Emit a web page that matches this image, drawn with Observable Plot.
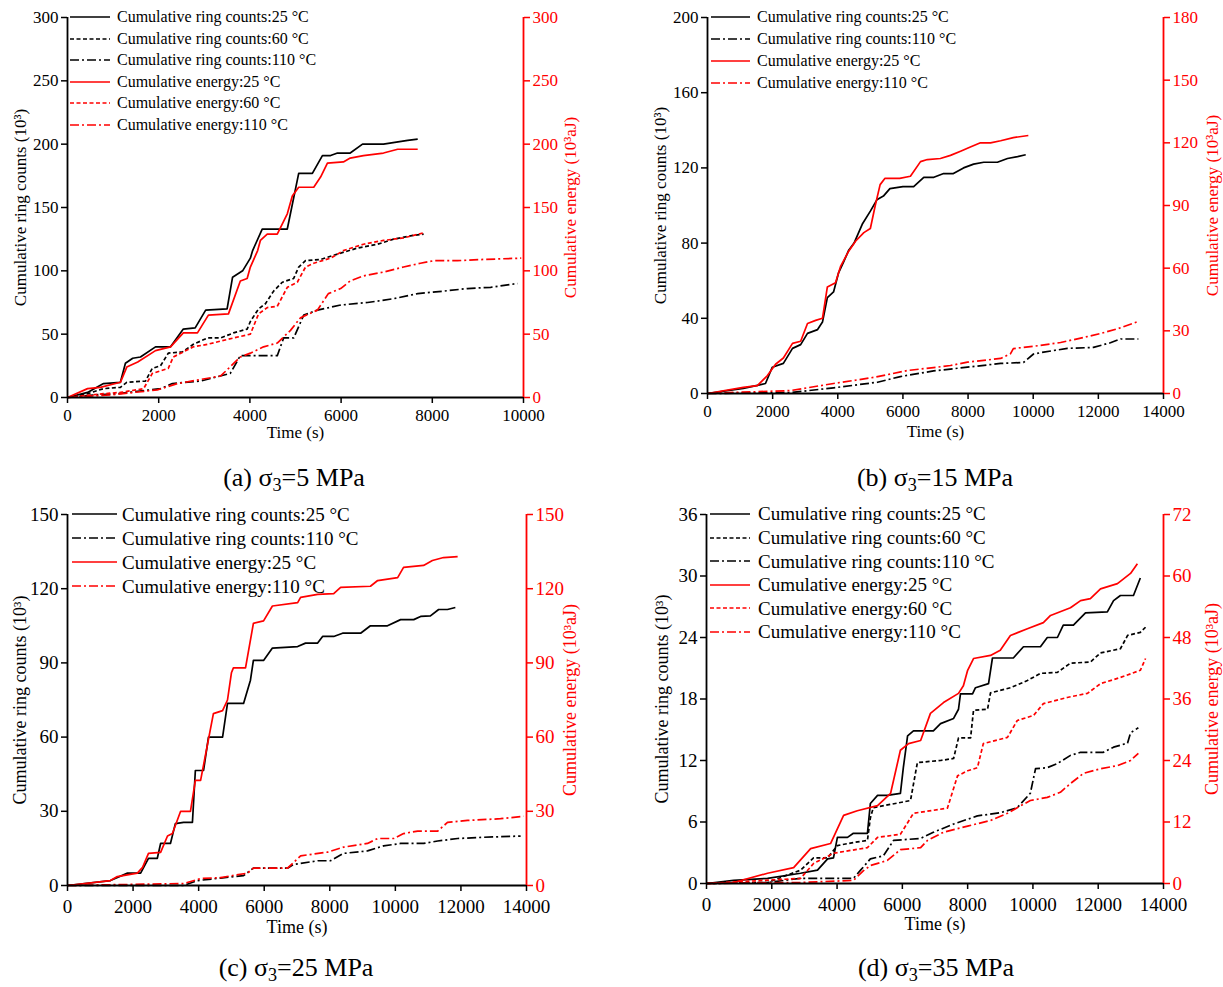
<!DOCTYPE html>
<html><head><meta charset="utf-8">
<script src="https://cdn.jsdelivr.net/npm/d3@7"></script>
<script src="https://cdn.jsdelivr.net/npm/@observablehq/plot@0.6"></script>
<style>
body{margin:0;background:#fff;}
#root{position:relative;width:1223px;height:987px;overflow:hidden;font-family:"Liberation Serif","Times New Roman",serif;color:#000;}
.pnl{position:absolute;}
.cap{position:absolute;white-space:nowrap;transform:translate(-50%,-50%);}
.cap sub{font-size:0.7em;vertical-align:-0.25em;line-height:0;}
</style></head><body><div id="root"></div>
<script>
// ---------------- tick labels ----------------
const a_xTicks = [0,2000,4000,6000,8000,10000];
const a_yTicks = [0,50,100,150,200,250,300];
const a_eTicks = [0,50,100,150,200,250,300];
const b_xTicks = [0,2000,4000,6000,8000,10000,12000,14000];
const b_yTicks = [0,40,80,120,160,200];
const b_eTicks = [0,30,60,90,120,150,180];
const c_xTicks = [0,2000,4000,6000,8000,10000,12000,14000];
const c_yTicks = [0,30,60,90,120,150];
const c_eTicks = [0,30,60,90,120,150];
const d_xTicks = [0,2000,4000,6000,8000,10000,12000,14000];
const d_yTicks = [0,6,12,18,24,30,36];
const d_eTicks = [0,12,24,36,48,60,72];

// ---------------- series: [time (s), value] ----------------
// (a) sigma3 = 5 MPa
const a_ring25 = [[0,0],[440,4],[790,11],[1160,12],[1270,27],[1430,31],[1600,32],[1930,40],[2260,40],[2540,54],[2800,55],[3030,69],[3500,70],[3620,95],[3840,100],[4010,110],[4060,116],[4270,133],[4820,133],[5070,177],[5370,177],[5590,191],[5770,191],[5920,193],[6200,193],[6470,200],[6930,200],[7460,203],[7680,204]];
const a_ring60 = [[0,0],[440,3],[790,7],[1160,8],[1300,12],[1710,13],[1860,23],[2040,25],[2210,35],[2520,36],[2760,42],[3070,47],[3360,47],[3640,51],[3940,54],[4010,60],[4190,70],[4340,74],[4520,84],[4710,91],[4960,94],[5070,103],[5220,108],[5550,109],[5990,114],[6360,118],[6800,121],[7150,125],[7590,128],[7810,129]];
const a_ring110 = [[0,0],[570,2],[1100,3],[2040,7],[2300,11],[2920,13],[3570,19],[3790,33],[4600,33],[4740,47],[4960,47],[5180,65],[5480,69],[5990,73],[6580,75],[7150,78],[7680,82],[8250,84],[8770,86],[9280,87],[9870,90]];
const a_energy25 = [[0,0],[440,7],[720,8],[1160,12],[1300,24],[1540,28],[1930,37],[2260,40],[2540,51],[2850,51],[3090,65],[3530,66],[3790,92],[3940,94],[4010,103],[4170,116],[4230,124],[4380,129],[4600,129],[4820,145],[4930,159],[5070,166],[5400,166],[5550,174],[5700,185],[6050,186],[6200,189],[6490,191],[6930,193],[7240,196],[7680,196]];
const a_energy60 = [[0,0],[790,3],[1160,4],[1670,7],[1860,19],[2210,23],[2320,32],[2760,40],[3070,42],[3640,47],[4010,50],[4190,66],[4380,71],[4600,72],[4820,87],[5040,91],[5220,103],[5400,106],[5770,110],[6050,116],[6490,121],[6930,124],[7370,126],[7810,130]];
const a_energy110 = [[0,0],[940,2],[1970,6],[2410,11],[3360,17],[3790,32],[4010,35],[4300,40],[4600,43],[4890,53],[5110,63],[5480,69],[5720,82],[5990,86],[6200,92],[6490,96],[6930,99],[7370,103],[7740,106],[8030,108],[8550,108],[9120,109],[9950,110]];

// (b) sigma3 = 15 MPa
const b_ring25 = [[0,0],[1100,2.7],[1530,4.3],[1780,5.3],[1990,14],[2330,16],[2610,24],[2860,26],[3070,32],[3380,34],[3530,38],[3680,51],[3870,54],[4020,64],[4180,70],[4330,76],[4500,80],[4750,90],[5000,97],[5200,103],[5400,105],[5600,109],[6000,110],[6330,110],[6640,115],[6950,115],[7250,117],[7550,117],[7860,120],[8170,122],[8480,123],[8900,123],[9210,125],[9520,126],[9770,127]];
const b_ring110 = [[0,0],[2550,0.5],[3870,3],[5220,6],[5920,9],[6940,12],[7980,14],[9000,16],[9700,16.5],[10010,21],[10320,22],[11050,24],[11850,24.5],[12370,27],[12680,29],[13230,29]];
const b_energy25 = [[0,0],[1100,2.9],[1530,3.8],[1840,8.6],[2090,14],[2330,17],[2610,24],[2860,25],[3070,33.5],[3320,35],[3530,36],[3680,51],[3930,53],[4090,61],[4330,68],[4550,73],[4800,77],[5000,79],[5150,90],[5300,100],[5450,103],[5900,103],[6230,104],[6540,111],[6750,112],[7150,112.5],[7460,114],[7770,116],[8070,118],[8380,120],[8690,120],[9000,121],[9390,122.5],[9850,123.5]];
const b_energy110 = [[0,0],[800,0.5],[2550,1.4],[3870,4.8],[5100,7.7],[6140,11],[6940,12.4],[7460,13.4],[7980,15],[9000,16.8],[9300,19],[9390,21.5],[10220,23],[10840,24.4],[11540,26.8],[12060,28.7],[12590,31],[13230,34.5]];

// (c) sigma3 = 25 MPa
const c_ring25 = [[0,0],[1310,2],[1830,5],[2230,5],[2470,11],[2740,11],[2840,17],[3140,17],[3290,25],[3540,25.5],[3810,25.5],[3900,46.5],[4150,46.5],[4300,60],[4730,60],[4880,73.6],[5370,73.6],[5580,83],[5670,91],[5980,91],[6250,96],[7020,96.6],[7260,98],[7630,98],[7780,100.7],[8120,100.7],[8390,102],[8940,102],[9240,105],[9760,105],[10160,107.5],[10560,107.5],[10770,108.8],[11070,109],[11320,111.6],[11590,111.6],[11830,112.4]];
const c_ring110 = [[0,0],[3540,0],[3970,2],[4670,3],[5370,4],[5670,7],[6710,7],[6890,8.5],[7630,10],[8020,10],[8420,13],[9150,14],[9640,16],[10160,17],[10860,17],[11290,18],[11900,19],[12690,19.5],[13820,20]];
const c_energy25 = [[0,0],[1310,2],[1520,3.6],[2130,5],[2290,7.3],[2470,13],[2840,13.4],[3050,20],[3200,21],[3450,30],[3750,30],[3900,42.5],[4060,42.5],[4450,69.5],[4730,70.7],[4880,75],[5000,86],[5060,88],[5430,88],[5670,106],[5980,107],[6250,113],[7020,114.4],[7110,116.5],[7630,117.7],[8120,118],[8330,120.5],[9240,121],[9460,123.3],[10070,124.5],[10250,128.6],[10860,129.4],[11130,131.4],[11470,132.6],[11900,133]];
const c_energy110 = [[0,0],[3540,0.8],[4060,2.8],[4670,3.2],[5490,5],[5670,7],[6710,7],[7110,12],[7930,13.5],[8420,15.5],[9150,17],[9460,19],[9950,19],[10250,21],[10680,22],[11290,22],[11590,25.5],[12200,26.3],[13210,27],[13910,28]];

// (d) sigma3 = 35 MPa
const d_ring25 = [[0,0],[830,0.3],[1870,0.5],[2880,1],[3400,1.3],[3710,2.4],[3890,2.5],[4010,4.5],[4320,4.5],[4500,4.9],[4930,4.9],[5020,7.8],[5240,8.6],[5540,8.6],[5940,8.8],[6030,11.3],[6160,14.4],[6340,14.9],[6950,14.9],[7170,15.6],[7570,16.1],[7720,17],[7780,18.5],[8150,18.5],[8240,19.1],[8640,19.5],[8760,22],[9400,22],[9710,23.1],[10230,23.1],[10440,24],[10750,24],[10930,25.2],[11240,25.2],[11610,26.4],[12280,26.5],[12470,27.6],[12680,28.1],[13080,28.1],[13290,29.8]];
const d_ring60 = [[0,0],[1870,0.1],[2880,1.3],[3280,2.5],[3710,2.5],[4010,3.7],[4500,4],[4930,4.2],[5020,6.4],[5110,7.4],[5940,7.9],[6250,8.1],[6460,11.8],[7170,12],[7570,12.2],[7720,14.2],[8090,14.2],[8180,16.9],[8610,17],[8700,18.6],[9310,19.1],[9830,19.8],[10230,20.5],[10750,20.6],[11150,21.5],[11760,21.6],[12070,22.5],[12680,22.9],[12900,24.2],[13290,24.5],[13450,25]];
const d_ring110 = [[0,0],[1870,0.1],[2880,0.5],[4500,0.5],[4720,1.3],[5020,2.4],[5420,2.7],[5730,4.2],[6560,4.4],[6950,5],[7570,5.8],[8300,6.6],[9000,6.9],[9520,7.4],[9920,8.8],[10080,11.2],[10440,11.3],[10750,11.7],[11150,12.5],[11460,12.8],[12160,12.8],[12470,13.3],[12900,13.7],[12990,14.7],[13230,15.2]];
const d_energy25 = [[0,0],[830,0.2],[1870,2],[2670,3.1],[3190,6.8],[3800,7.8],[4200,13.3],[4620,14.2],[5240,15.2],[5640,17.6],[5940,26],[6190,27.3],[6560,27.9],[6860,33.2],[7260,35.3],[7720,37.1],[7870,38.6],[8000,41.6],[8180,43.9],[8700,44.5],[9000,45.5],[9310,48.4],[9830,49.7],[10320,50.9],[10540,52.3],[11150,53.8],[11460,55.2],[11760,55.6],[12070,57.5],[12590,58.5],[12990,60.5],[13200,62.4]];
const d_energy60 = [[0,0],[2880,1],[3280,3.9],[3890,5.9],[4930,7],[5240,9],[5940,9.6],[6340,13.7],[7380,14.7],[7690,21],[8000,22],[8300,22.6],[8480,27.3],[9220,28.5],[9520,31.8],[10020,32.8],[10320,35.1],[11050,36.3],[11670,37.1],[12070,39],[12680,40.2],[13290,41.6],[13450,43.9]];
const d_energy110 = [[0,0],[2880,0.2],[4500,0.6],[4810,2.5],[5020,3.5],[5540,4.5],[5940,6.6],[6560,7],[6770,8.4],[7260,10],[8000,11.2],[8700,12.3],[9220,13.7],[9520,14.8],[9920,16.2],[10440,16.8],[10840,17.8],[11150,19.5],[11550,21.5],[12070,22.4],[12590,23],[12990,24],[13230,25.4]];

// ---------------- styles ----------------
const BLACK = "#000000", RED = "#ff0000";
const DASH = "4,2.5", DASHDOT = "9,3,2,3";
const ring = (t) => `Cumulative ring counts:${t} °C`;
const en = (t) => `Cumulative energy:${t} °C`;

const panels = [
  {left:0, top:0, width:612, height:445, mL:67, mR:89, mT:17, mB:48, xMax:10000, xTicks:a_xTicks, xPad:5,
   yMax:300, yTicks:a_yTicks, eMax:300, eTicks:a_eTicks, font:17, titleFont:17, leftDx:-47, rightDx:47, timeDy:35,
   legend:{x:70, y:17, step:21.6, sample:40, gap:7, font:16},
   caption:{html:"(a) σ<sub>3</sub>=5 MPa", cx:294, cy:478},
   series:[
     {name:ring(25), data:a_ring25, color:BLACK, dash:null},
     {name:ring(60), data:a_ring60, color:BLACK, dash:DASH},
     {name:ring(110), data:a_ring110, color:BLACK, dash:DASHDOT},
     {name:en(25), data:a_energy25, color:RED, dash:null, energy:true},
     {name:en(60), data:a_energy60, color:RED, dash:DASH, energy:true},
     {name:en(110), data:a_energy110, color:RED, dash:DASHDOT, energy:true}]},
  {left:612, top:0, width:611, height:445, mL:95, mR:60, mT:17, mB:52, xMax:14000, xTicks:b_xTicks, xPad:5,
   yMax:200, yTicks:b_yTicks, eMax:180, eTicks:b_eTicks, font:17, titleFont:17, leftDx:-47, rightDx:49, timeDy:38,
   legend:{x:711, y:17, step:22, sample:39, gap:7, font:16},
   caption:{html:"(b) σ<sub>3</sub>=15 MPa", cx:935, cy:478},
   series:[
     {name:ring(25), data:b_ring25, color:BLACK, dash:null},
     {name:ring(110), data:b_ring110, color:BLACK, dash:DASHDOT},
     {name:en(25), data:b_energy25, color:RED, dash:null, energy:true},
     {name:en(110), data:b_energy110, color:RED, dash:DASHDOT, energy:true}]},
  {left:0, top:490, width:612, height:445, mL:67, mR:86, mT:24, mB:50, xMax:14000, xTicks:c_xTicks, xPad:8,
   yMax:150, yTicks:c_yTicks, eMax:150, eTicks:c_eTicks, font:19, titleFont:18, leftDx:-47, rightDx:44, timeDy:42,
   legend:{x:72, y:514, step:24, sample:45, gap:5, font:19},
   caption:{html:"(c) σ<sub>3</sub>=25 MPa", cx:296, cy:968},
   series:[
     {name:ring(25), data:c_ring25, color:BLACK, dash:null},
     {name:ring(110), data:c_ring110, color:BLACK, dash:DASHDOT},
     {name:en(25), data:c_energy25, color:RED, dash:null, energy:true},
     {name:en(110), data:c_energy110, color:RED, dash:DASHDOT, energy:true}]},
  {left:612, top:490, width:611, height:445, mL:94, mR:60, mT:24, mB:52, xMax:14000, xTicks:d_xTicks, xPad:8,
   yMax:36, yTicks:d_yTicks, eMax:72, eTicks:d_eTicks, font:19, titleFont:18, leftDx:-44, rightDx:49, timeDy:41,
   legend:{x:710, y:514, step:23.6, sample:40, gap:8, font:19},
   caption:{html:"(d) σ<sub>3</sub>=35 MPa", cx:936, cy:968},
   series:[
     {name:ring(25), data:d_ring25, color:BLACK, dash:null},
     {name:ring(60), data:d_ring60, color:BLACK, dash:DASH},
     {name:ring(110), data:d_ring110, color:BLACK, dash:DASHDOT},
     {name:en(25), data:d_energy25, color:RED, dash:null, energy:true},
     {name:en(60), data:d_energy60, color:RED, dash:DASH, energy:true},
     {name:en(110), data:d_energy110, color:RED, dash:DASHDOT, energy:true}]}
];

const root = document.getElementById("root");

for (const p of panels) {
  const k = p.yMax / p.eMax;
  const marks = [];
  for (const s of p.series) {
    const f = s.energy ? k : 1;
    marks.push(Plot.line(s.data, {x: d => d[0], y: d => d[1] * f, stroke: s.color, strokeWidth: 1.7,
      strokeDasharray: s.dash || undefined, strokeLinejoin: "round", strokeLinecap: "butt"}));
  }
  marks.push(Plot.axisX(p.xTicks, {tickSize: 6, tickPadding: p.xPad, tickFormat: d => String(d), label: null, strokeWidth: 1.5}));
  marks.push(Plot.axisY(p.yTicks, {anchor: "left", tickSize: 6, tickPadding: 3, tickFormat: d => String(d), label: null, strokeWidth: 1.5}));
  marks.push(Plot.axisY(p.eTicks.map(e => e * k), {anchor: "right", tickSize: 6, tickPadding: 3,
    tickFormat: d => String(Math.round(d / k)), label: null, stroke: RED, fill: RED, strokeWidth: 1.5}));
  marks.push(Plot.ruleY([0], {stroke: BLACK, strokeWidth: 1.8}));
  marks.push(Plot.ruleX([0], {stroke: BLACK, strokeWidth: 1.8}));
  marks.push(Plot.ruleX([p.xMax], {stroke: RED, strokeWidth: 1.8}));
  marks.push(Plot.text(["Time (s)"], {frameAnchor: "bottom", dy: p.timeDy, textAnchor: "middle", lineAnchor: "middle",
    fontSize: p.titleFont, fill: BLACK}));
  marks.push(Plot.text(["Cumulative ring counts (10³)"], {frameAnchor: "left", dx: p.leftDx, rotate: -90,
    textAnchor: "middle", lineAnchor: "middle", fontSize: p.titleFont, fill: BLACK}));
  marks.push(Plot.text(["Cumulative energy (10³aJ)"], {frameAnchor: "right", dx: p.rightDx, rotate: -90,
    textAnchor: "middle", lineAnchor: "middle", fontSize: p.titleFont, fill: RED}));

  const svg = Plot.plot({
    width: p.width, height: p.height,
    marginLeft: p.mL, marginRight: p.mR, marginTop: p.mT, marginBottom: p.mB,
    x: {domain: [0, p.xMax]},
    y: {domain: [0, p.yMax]},
    style: {fontFamily: "'Liberation Serif','Times New Roman',serif", fontSize: p.font + "px", color: "#000", background: "transparent", overflow: "visible"},
    marks
  });
  svg.classList.add("pnl");
  svg.style.left = p.left + "px";
  svg.style.top = p.top + "px";
  svg.style.maxWidth = "none";
  root.appendChild(svg);

  // legend (inside plot area, top-left)
  const L = p.legend;
  const lg = document.createElement("div");
  lg.style.cssText = `position:absolute;left:${L.x}px;top:${L.y - L.step / 2}px;font-size:${L.font}px;`;
  for (const s of p.series) {
    const row = document.createElement("div");
    row.style.cssText = `display:flex;align-items:center;height:${L.step}px;white-space:nowrap;`;
    const ns = "http://www.w3.org/2000/svg";
    const sv = document.createElementNS(ns, "svg");
    sv.setAttribute("width", L.sample); sv.setAttribute("height", 6);
    const ln = document.createElementNS(ns, "line");
    ln.setAttribute("x1", 0); ln.setAttribute("x2", L.sample); ln.setAttribute("y1", 3); ln.setAttribute("y2", 3);
    ln.setAttribute("stroke", s.color); ln.setAttribute("stroke-width", 1.7);
    if (s.dash) ln.setAttribute("stroke-dasharray", s.dash);
    sv.appendChild(ln);
    const sp = document.createElement("span");
    sp.textContent = s.name;
    sp.style.cssText = `margin-left:${L.gap}px;line-height:1;`;
    row.appendChild(sv); row.appendChild(sp);
    lg.appendChild(row);
  }
  root.appendChild(lg);

  const cap = document.createElement("div");
  cap.className = "cap";
  cap.style.left = p.caption.cx + "px";
  cap.style.top = p.caption.cy + "px";
  cap.style.fontSize = "26px";
  cap.innerHTML = p.caption.html;
  root.appendChild(cap);
}
</script></body></html>
